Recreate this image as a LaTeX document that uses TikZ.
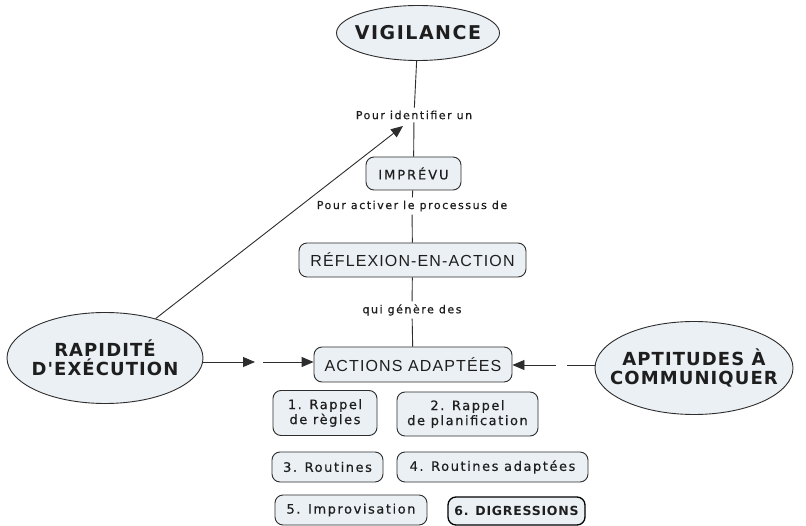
\documentclass[tikz,border=0pt]{standalone}
\usepackage{fontspec}
\setmainfont{DejaVu Sans}
\newfontfamily\bigfont[LetterSpace=6]{DejaVu Sans}
\newfontfamily\vigfont[LetterSpace=8]{DejaVu Sans}
\newfontfamily\midfont[LetterSpace=7]{Liberation Sans}
\newfontfamily\smallfont[LetterSpace=12,FakeBold=0.4]{DejaVu Sans}
\newfontfamily\labelfont[LetterSpace=14,FakeBold=0.6]{DejaVu Sans}
\newfontfamily\impfont[LetterSpace=15,FakeBold=0.4]{DejaVu Sans}
\usetikzlibrary{arrows.meta,shapes.geometric}
\definecolor{boxfill}{RGB}{235,240,244}
\definecolor{edgecol}{RGB}{45,45,45}
\definecolor{textcol}{RGB}{30,30,30}
\tikzset{
  oval/.style={ellipse,draw=edgecol,line width=0.9pt,fill=boxfill,inner sep=0pt},
  ovaltext/.style={inner sep=0pt,align=center,text=textcol,
    font=\bigfont\bfseries\fontsize{18}{19}\selectfont},
  bigbox/.style={rectangle,rounded corners=8pt,draw=edgecol,line width=0.9pt,fill=boxfill,
    inner sep=0pt,align=center,text=textcol,font=\midfont\fontsize{16}{18}\selectfont},
  smallbox/.style={rectangle,rounded corners=8pt,draw=edgecol,line width=0.9pt,fill=boxfill,
    inner sep=0pt,align=center,text=textcol,font=\smallfont\fontsize{13}{15}\selectfont},
  linklabel/.style={inner sep=3pt,text=textcol,font=\labelfont\fontsize{11}{12}\selectfont},
  conn/.style={draw=edgecol,line width=0.9pt},
  arr/.style={conn,-{Triangle[length=12pt,width=10pt]}}
}
\begin{document}
\begin{tikzpicture}[x=1pt,y=-1pt]
\useasboundingbox[fill=white] (0,0) rectangle (806,526);

\node[oval,minimum width=163pt,minimum height=55pt] (vig) at (418,33) {};
\node[ovaltext,font=\vigfont\bfseries\fontsize{19}{20}\selectfont] (vigt) at (vig) {VIGILANCE};
\node[oval,minimum width=196pt,minimum height=91pt] (rap) at (105,358) {};
\node[ovaltext] (rapt) at (rap) {RAPIDIT\'E\\D'EX\'ECUTION};
\node[oval,minimum width=198pt,minimum height=93pt] (apt) at (694,368) {};
\node[ovaltext] (aptt) at (apt) {APTITUDES \`A\\COMMUNIQUER};

\node[linklabel] (l1) at (414,115) {Pour identifier un};
\node[smallbox,font=\impfont\fontsize{13}{15}\selectfont,minimum width=95pt,minimum height=33pt] (imp) at (413.5,173.5) {IMPR\'EVU};
\node[linklabel] (l2) at (412,206) {Pour activer le processus de};
\node[bigbox,minimum width=227pt,minimum height=34pt] (ref) at (412.5,260) {R\'EFLEXION-EN-ACTION};
\node[linklabel] (l3) at (412,310) {qui g\'en\`ere des};
\node[bigbox,minimum width=198pt,minimum height=35pt] (act) at (413,364.5) {ACTIONS ADAPT\'EES};

\node[smallbox,minimum width=104pt,minimum height=45pt] (b1) at (325,413) {1. Rappel\\de r\`egles};
\node[smallbox,minimum width=141pt,minimum height=44pt] (b2) at (467.5,414) {2. Rappel\\de planification};
\node[smallbox,minimum width=111pt,minimum height=30pt] (b3) at (327.5,467) {3. Routines};
\node[smallbox,minimum width=191pt,minimum height=30pt] (b4) at (492.5,467) {4. Routines adapt\'ees};
\node[smallbox,minimum width=152pt,minimum height=30pt] (b5) at (351,510) {5. Improvisation};
\node[smallbox,line width=1.3pt,draw=black,minimum width=137pt,minimum height=28pt,
  font=\bigfont\fontsize{12.5}{14}\selectfont\bfseries] (b6) at (516.5,511) {6. DIGRESSIONS};

\coordinate (c1) at (259,362);
\coordinate (c2) at (561,365);
\coordinate (tip) at (403,126);

\draw[conn] (vig) -- (l1);
\draw[conn] (l1) -- (imp);
\draw[conn] (imp) -- (l2);
\draw[conn] (l2) -- (ref);
\draw[conn] (ref) -- (l3);
\draw[conn] (l3) -- (act);
\draw[arr] (rap) -- (tip);
\draw[arr,shorten >=4pt] (rap.east |- c1) -- (c1);
\draw[arr,shorten <=4pt] (c1) -- (act.west |- c1);
\draw[conn,shorten >=6pt] (apt.west |- c2) -- (c2);
\draw[arr,shorten <=5pt] (c2) -- (act.east |- c2);
\end{tikzpicture}
\end{document}
